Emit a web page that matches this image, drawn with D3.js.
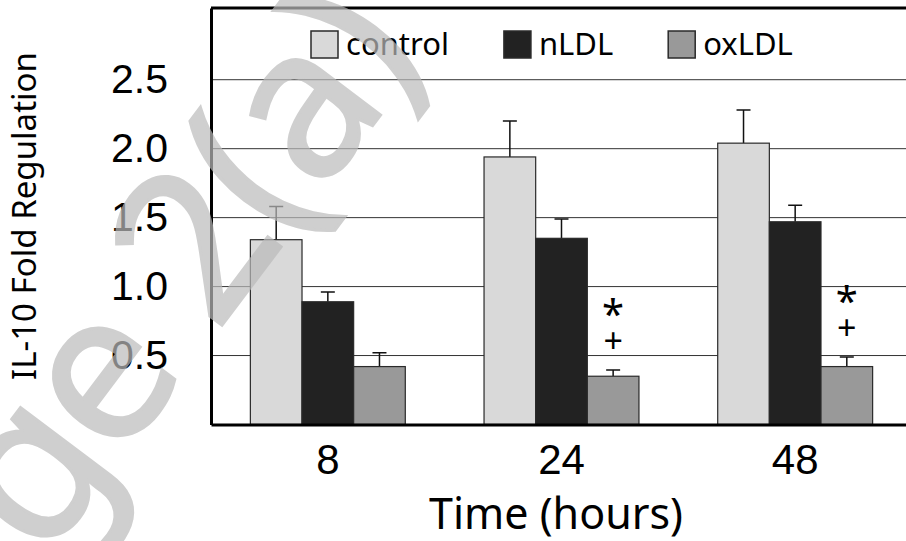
<!DOCTYPE html>
<html lang="en">
<head>
  <meta charset="UTF-8" />
  <title>IL-10 Fold Regulation</title>
  <script src="https://d3js.org/d3.v7.min.js"></script>
  <style>
    body { margin: 0; background: #fff; }
    svg { display: block; font-family: "Noto Sans", "Open Sans", sans-serif; }
    .grid line { stroke: #333; stroke-width: 1; }
    .bar { stroke: #2a2a2a; stroke-width: 1.2; }
    .err { stroke: #111; stroke-width: 1.5; fill: none; }
  </style>
</head>
<body>
  <div id="chart"></div>

  <script>
    // values
    const times     = ["8", "24", "48"];
    const groups    = ["control", "nLDL", "oxLDL"];
    const control    = [1.34, 1.94, 2.04];
    const controlErr = [0.24, 0.26, 0.24];
    const nLDL       = [0.89, 1.35, 1.47];
    const nLDLErr    = [0.07, 0.14, 0.12];
    const oxLDL      = [0.42, 0.35, 0.42];
    const oxLDLErr   = [0.10, 0.045, 0.07];
    const oxStar     = ["", "*", "*"];
    const oxPlus     = ["", "+", "+"];
    const yTicks     = [0.5, 1.0, 1.5, 2.0, 2.5];

    const fills = { control: "#d9d9d9", nLDL: "#222222", oxLDL: "#999999" };

    const width  = 906;
    const height = 541;
    const margin = { top: 8, left: 211, bottom: 424.5, right: 912 };

    const svg = d3.select("#chart")
                  .append("svg")
                    .attr("width", width)
                    .attr("height", height);

    const x0 = d3.scaleBand()
                 .domain(times)
                 .range([margin.left, margin.right])
                 .paddingInner(0.337)
                 .paddingOuter(0.1685);

    const x1 = d3.scaleBand()
                 .domain(groups)
                 .range([0, x0.bandwidth()]);

    const y = d3.scaleLinear()
                .domain([0, 3.02])
                .range([margin.bottom, margin.top]);

    // gridlines
    svg.append("g")
       .attr("class", "grid")
       .selectAll("line")
       .data(yTicks)
       .enter()
       .append("line")
         .attr("x1", margin.left)
         .attr("x2", width)
         .attr("y1", d => y(d))
         .attr("y2", d => y(d));

    const rows = times.map((t, i) => ({
      time: t,
      vals: [
        { key: "control", v: control[i], e: controlErr[i] },
        { key: "nLDL",    v: nLDL[i],    e: nLDLErr[i] },
        { key: "oxLDL",   v: oxLDL[i],   e: oxLDLErr[i] }
      ],
      star: oxStar[i],
      plus: oxPlus[i]
    }));

    const grp = svg.selectAll(".grp")
                   .data(rows)
                   .enter()
                   .append("g")
                     .attr("class", "grp")
                     .attr("transform", d => `translate(${x0(d.time)},0)`);

    // error bars first, bars drawn over their lower half
    const cap = 7;
    grp.selectAll(".err")
       .data(d => d.vals)
       .enter()
       .append("path")
         .attr("class", "err")
         .attr("d", d => {
           const cx = x1(d.key) + x1.bandwidth() / 2;
           const top = y(d.v + d.e);
           return `M${cx},${y(d.v)}V${top}M${cx - cap},${top}H${cx + cap}`;
         });

    grp.selectAll(".bar")
       .data(d => d.vals)
       .enter()
       .append("rect")
         .attr("class", "bar")
         .attr("x", d => x1(d.key))
         .attr("width", x1.bandwidth())
         .attr("y", d => y(d.v))
         .attr("height", d => y(0) - y(d.v))
         .attr("fill", d => fills[d.key]);

    // significance marks above oxLDL
    grp.append("text")
       .attr("x", x1("oxLDL") + x1.bandwidth() / 2)
       .attr("y", (d, i) => y(oxLDL[i] + oxLDLErr[i]) - 42)
       .attr("text-anchor", "middle")
       .attr("font-size", 40)
       .attr("fill", "#000")
       .text(d => d.star);

    grp.append("text")
       .attr("x", x1("oxLDL") + x1.bandwidth() / 2)
       .attr("y", (d, i) => y(oxLDL[i] + oxLDLErr[i]) - 17)
       .attr("text-anchor", "middle")
       .attr("font-size", 34)
       .attr("fill", "#000")
       .text(d => d.plus);

    // frame
    svg.append("line")
       .attr("x1", margin.left).attr("x2", width)
       .attr("y1", y(3.02)).attr("y2", y(3.02))
       .attr("stroke", "#000").attr("stroke-width", 3);

    const yAxis = svg.append("g")
                     .attr("transform", `translate(${margin.left},0)`)
                     .call(d3.axisLeft(y).tickValues(yTicks).tickSize(0).tickPadding(43)
                             .tickFormat(d3.format(".1f")));
    yAxis.select(".domain").attr("stroke", "#000").attr("stroke-width", 3);
    yAxis.selectAll("text").attr("font-size", 41).attr("font-family", null).attr("fill", "#000");

    const xAxis = svg.append("g")
                     .attr("transform", `translate(0,${margin.bottom})`)
                     .call(d3.axisBottom(x0).tickSize(0).tickPadding(20));
    xAxis.select(".domain").attr("stroke", "#000").attr("stroke-width", 3);
    xAxis.selectAll("text").attr("font-size", 42).attr("font-family", null).attr("fill", "#000");

    // axis titles
    svg.append("text")
       .attr("x", 556)
       .attr("y", 529)
       .attr("text-anchor", "middle")
       .attr("font-size", 43)
       .text("Time (hours)");

    svg.append("text")
       .attr("transform", "translate(36,216) rotate(-90)")
       .attr("text-anchor", "middle")
       .attr("font-size", 32)
       .attr("textLength", 328)
       .attr("lengthAdjust", "spacingAndGlyphs")
       .text("IL-10 Fold Regulation");

    // legend
    const legend = svg.append("g").attr("transform", "translate(311,31)");
    let lx = 0;
    groups.forEach(g => {
      legend.append("rect")
            .attr("x", lx).attr("y", 0)
            .attr("width", 27).attr("height", 27)
            .attr("fill", fills[g])
            .attr("stroke", "#2a2a2a").attr("stroke-width", 1.5);
      const t = legend.append("text")
                      .attr("x", lx + 35).attr("y", 24)
                      .attr("font-size", 31)
                      .text(g);
      lx += 35 + t.node().getComputedTextLength() + 55;
    });

    // watermark
    svg.append("text")
       .attr("transform", "translate(-98,750) rotate(-53)")
       .attr("font-size", 208)
       .attr("letter-spacing", -4)
       .attr("fill", "#bbb")
       .attr("stroke", "#bbb")
       .attr("stroke-width", 3)
       .attr("opacity", 0.7)
       .text("Page 2(a)");
  </script>
</body>
</html>
